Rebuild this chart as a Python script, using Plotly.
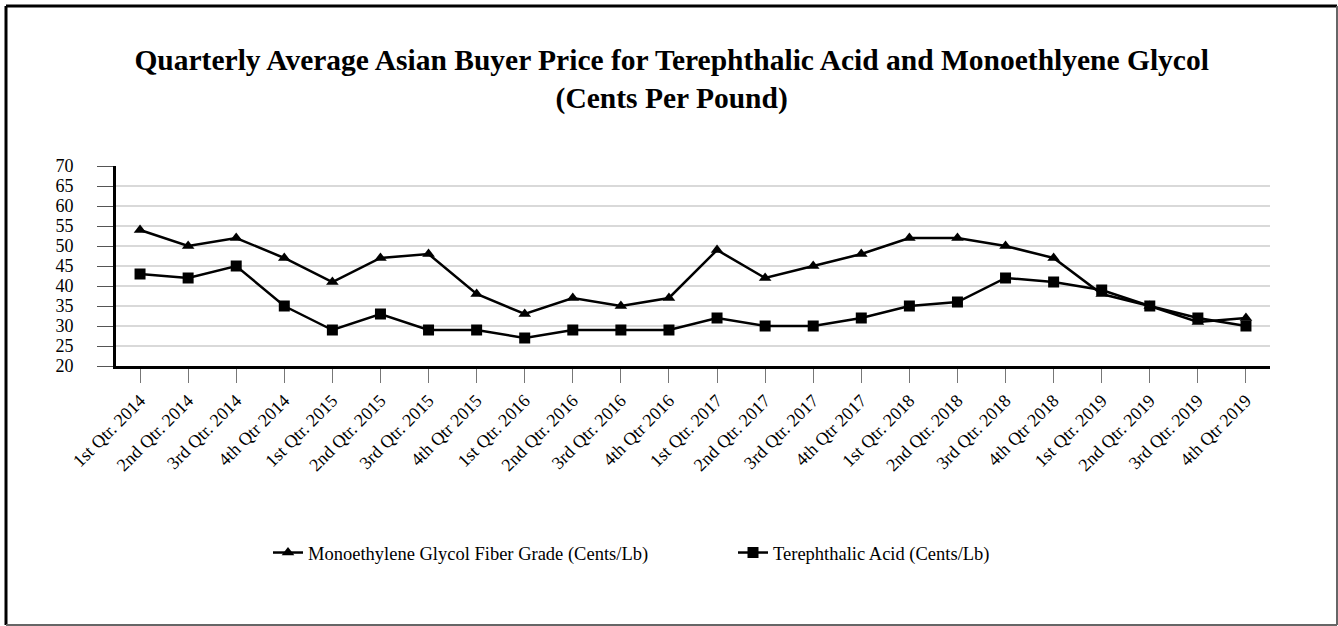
import plotly.graph_objects as go

quarters = ["1st Qtr. 2014", "2nd Qtr. 2014", "3rd Qtr. 2014", "4th Qtr 2014",
            "1st Qtr. 2015", "2nd Qtr. 2015", "3rd Qtr. 2015", "4th Qtr 2015",
            "1st Qtr. 2016", "2nd Qtr. 2016", "3rd Qtr. 2016", "4th Qtr 2016",
            "1st Qtr. 2017", "2nd Qtr. 2017", "3rd Qtr. 2017", "4th Qtr 2017",
            "1st Qtr. 2018", "2nd Qtr. 2018", "3rd Qtr. 2018", "4th Qtr 2018",
            "1st Qtr. 2019", "2nd Qtr. 2019", "3rd Qtr. 2019", "4th Qtr 2019"]
meg = [54, 50, 52, 47, 41, 47, 48, 38, 33, 37, 35, 37,
       49, 42, 45, 48, 52, 52, 50, 47, 38, 35, 31, 32]
pta = [43, 42, 45, 35, 29, 33, 29, 29, 27, 29, 29, 29,
       32, 30, 30, 32, 35, 36, 42, 41, 39, 35, 32, 30]
y_ticks = [20, 25, 30, 35, 40, 45, 50, 55, 60, 65, 70]

FONT = "Liberation Serif"

fig = go.Figure()
fig.add_trace(go.Scatter(
    x=quarters, y=meg, mode="lines+markers",
    name="Monoethylene Glycol Fiber Grade (Cents/Lb)",
    line=dict(color="black", width=2.5),
    marker=dict(symbol="triangle-up", size=11, color="black"),
))
fig.add_trace(go.Scatter(
    x=quarters, y=pta, mode="lines+markers",
    name="Terephthalic Acid (Cents/Lb)",
    line=dict(color="black", width=2.5),
    marker=dict(symbol="square", size=11, color="black"),
))

L, R, T, B = 116, 68, 166, 260
W, H = 1338, 626
pw, ph = W - L - R, H - T - B

def px_x(x):
    return (x - L) / pw

def px_y(y):
    return (H - B - y) / ph

fig.update_layout(
    width=W, height=H,
    margin=dict(l=L, r=R, t=T, b=B),
    paper_bgcolor="white", plot_bgcolor="white",
    font=dict(family=FONT, color="black", size=18),
    title=dict(
        text="Quarterly Average Asian Buyer Price for Terephthalic Acid and Monoethlyene Glycol<br>(Cents Per Pound)",
        x=0.502, xanchor="center", xref="container",
        y=1 - 70 / H, yanchor="middle", yref="container",
        font=dict(family=FONT, size=29.5, color="black", weight="bold"),
    ),
    showlegend=True,
    legend=dict(
        orientation="h", x=px_x(268), xanchor="left",
        y=px_y(553), yanchor="middle",
        font=dict(family=FONT, size=18.5, color="black"),
        entrywidth=420, entrywidthmode="pixels",
        bgcolor="rgba(0,0,0,0)",
    ),
    xaxis=dict(
        type="category", range=[-0.5, 23.5],
        showline=True, linecolor="black", linewidth=3,
        ticks="outside", ticklen=14, tickcolor="#777777", tickwidth=1,
        tickangle=-45, showgrid=False, zeroline=False,
        tickfont=dict(family=FONT, size=18, color="black"),
    ),
    yaxis=dict(
        range=[20, 70], tickvals=y_ticks,
        showline=True, linecolor="black", linewidth=3,
        ticks="outside", ticklen=16, tickcolor="#555555", tickwidth=1,
        showgrid=True, gridcolor="#d9d9d9", gridwidth=1.5, zeroline=False,
        tickfont=dict(family=FONT, size=18, color="black"),
        ticklabelstandoff=20,
    ),
    shapes=[
        dict(type="line", xref="paper", yref="paper",
             x0=px_x(6), x1=px_x(6), y0=px_y(6), y1=px_y(625),
             line=dict(color="black", width=3)),
        dict(type="line", xref="paper", yref="paper",
             x0=px_x(6), x1=px_x(1337), y0=px_y(6), y1=px_y(6),
             line=dict(color="black", width=3)),
        dict(type="line", xref="paper", yref="paper",
             x0=px_x(1337), x1=px_x(1337), y0=px_y(6), y1=px_y(625),
             line=dict(color="#666666", width=2)),
        dict(type="line", xref="paper", yref="paper",
             x0=px_x(6), x1=px_x(1337), y0=px_y(625), y1=px_y(625),
             line=dict(color="#666666", width=2)),
    ],
)

fig.write_html("out.html")
